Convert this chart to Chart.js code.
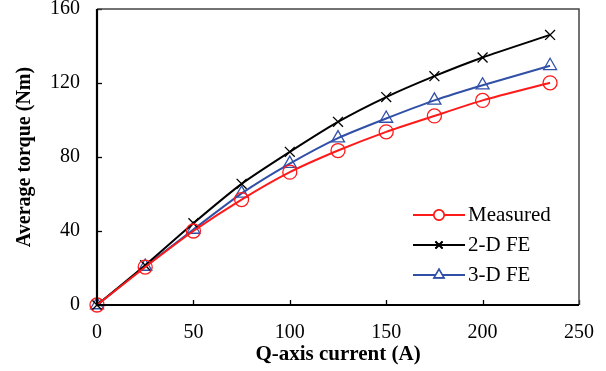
<!DOCTYPE html>
<html>
<head>
<meta charset="utf-8">
<script src="https://cdn.jsdelivr.net/npm/chart.js@4/dist/chart.umd.min.js"></script>
<style>
  html, body { margin: 0; padding: 0; background: #fff; }
  #wrap { width: 606px; height: 371px; position: relative; }
</style>
</head>
<body>
<div id="wrap"><canvas id="torque"></canvas></div>
<script>
// Q-axis current (A) vs average torque (Nm)
var current  = [0, 25, 50, 75, 100, 125, 150, 175, 200, 235];
var measured = [0, 20.5, 40, 57, 71.8, 83.5, 93.6, 102.2, 110.6, 120.1];
var fe2d     = [0, 21.5, 44.2, 65.5, 82.8, 99, 112.4, 123.7, 133.8, 146];
var fe3d     = [0, 20.8, 40.8, 60.3, 76.4, 90.2, 100.8, 110.6, 118.8, 129.3];
var xTicks   = [0, 50, 100, 150, 200, 250];
var yTicks   = [0, 40, 80, 120, 160];

var FONT = '"Liberation Serif", "Times New Roman", serif';

function pts(ys) {
  return current.map(function (x, i) { return { x: x, y: ys[i] }; });
}

function series(label, ys, color, style, radius) {
  return {
    label: label,
    data: pts(ys),
    borderColor: color,
    borderWidth: 2,
    pointStyle: style,
    pointRadius: radius,
    pointBorderColor: color,
    pointBackgroundColor: style === 'crossRot' ? color : 'rgba(255,255,255,0)',
    pointBorderWidth: 1.3,
    tension: 0.2,
    clip: false
  };
}

// inside ticks + frame + legend with line/marker samples
var decor = {
  id: 'decor',
  afterDraw: function (chart) {
    var c = chart.ctx, a = chart.chartArea;
    var xs = chart.scales.x, ys = chart.scales.y;
    c.save();
    c.strokeStyle = '#000';
    c.lineWidth = 1.3;
    xTicks.forEach(function (v) {
      var px = Math.round(xs.getPixelForValue(v)) + 0.5;
      c.beginPath(); c.moveTo(px, a.bottom); c.lineTo(px, a.bottom - 5); c.stroke();
    });
    yTicks.forEach(function (v) {
      var py = Math.round(ys.getPixelForValue(v)) + 0.5;
      c.beginPath(); c.moveTo(a.left, py); c.lineTo(a.left + 5, py); c.stroke();
    });
    // top/right frame
    c.strokeStyle = '#444';
    c.lineWidth = 1.5;
    c.beginPath();
    c.moveTo(a.left, a.top); c.lineTo(a.right, a.top); c.lineTo(a.right, a.bottom);
    c.stroke();
    // left/bottom axes
    c.strokeStyle = '#000';
    c.lineWidth = 2.2;
    c.beginPath();
    c.moveTo(a.left, a.top); c.lineTo(a.left, a.bottom); c.lineTo(a.right, a.bottom);
    c.stroke();

    // legend
    var lx = 413, lw = 52, ly = 215, gap = 30;
    c.font = '21px ' + FONT;
    c.textBaseline = 'middle';
    chart.data.datasets.forEach(function (ds, i) {
      var y = ly + i * gap;
      c.strokeStyle = ds.borderColor;
      c.lineWidth = 2;
      c.beginPath(); c.moveTo(lx, y); c.lineTo(lx + lw, y); c.stroke();
      Chart.helpers.drawPoint(c, {
        pointStyle: ds.pointStyle,
        radius: ds.pointRadius - 2,
        borderWidth: ds.pointBorderWidth,
        rotation: 0
      }, lx + lw / 2, y);
      c.fillStyle = '#fff';
      c.strokeStyle = ds.borderColor;
      c.lineWidth = ds.pointBorderWidth;
      c.fill();
      c.stroke();
      c.fillStyle = '#000';
      c.fillText(ds.label, lx + lw + 3, y);
    });
    c.restore();
  }
};

new Chart(document.getElementById('torque'), {
  type: 'line',
  data: {
    datasets: [
      series('Measured', measured, '#ff1a1a', 'circle', 7),
      series('2-D FE', fe2d, '#000000', 'crossRot', 7),
      series('3-D FE', fe3d, '#3050a8', 'triangle', 7.5)
    ]
  },
  options: {
    responsive: true,
    maintainAspectRatio: false,
    animation: false,
    layout: { padding: { top: 9, right: 27, left: 9, bottom: 0 } },
    plugins: {
      legend: { display: false },
      tooltip: { enabled: false }
    },
    scales: {
      x: {
        type: 'linear',
        min: 0, max: 250,
        afterBuildTicks: function (s) { s.ticks = xTicks.map(function (v) { return { value: v }; }); },
        afterFit: function (s) { s.height = 66; s.paddingLeft = 0; s.paddingRight = 0; },
        grid: { display: false, drawTicks: false },
        border: { display: false },
        ticks: { color: '#000', font: { family: FONT, size: 20 }, padding: 16, maxRotation: 0 },
        title: { display: true, text: 'Q-axis current (A)', color: '#000',
                 font: { family: FONT, size: 21, weight: 'bold' }, padding: { top: 5 } }
      },
      y: {
        min: 0, max: 160,
        afterBuildTicks: function (s) { s.ticks = yTicks.map(function (v) { return { value: v }; }); },
        afterFit: function (s) { s.width = 88; s.paddingTop = 0; s.paddingBottom = 0; },
        grid: { display: false, drawTicks: false },
        border: { display: false },
        ticks: { color: '#000', font: { family: FONT, size: 20 }, padding: 17 },
        title: { display: true, text: 'Average torque (Nm)', color: '#000',
                 font: { family: FONT, size: 20, weight: 'bold' }, padding: { bottom: 0 } }
      }
    }
  },
  plugins: [decor]
});
</script>
</body>
</html>
